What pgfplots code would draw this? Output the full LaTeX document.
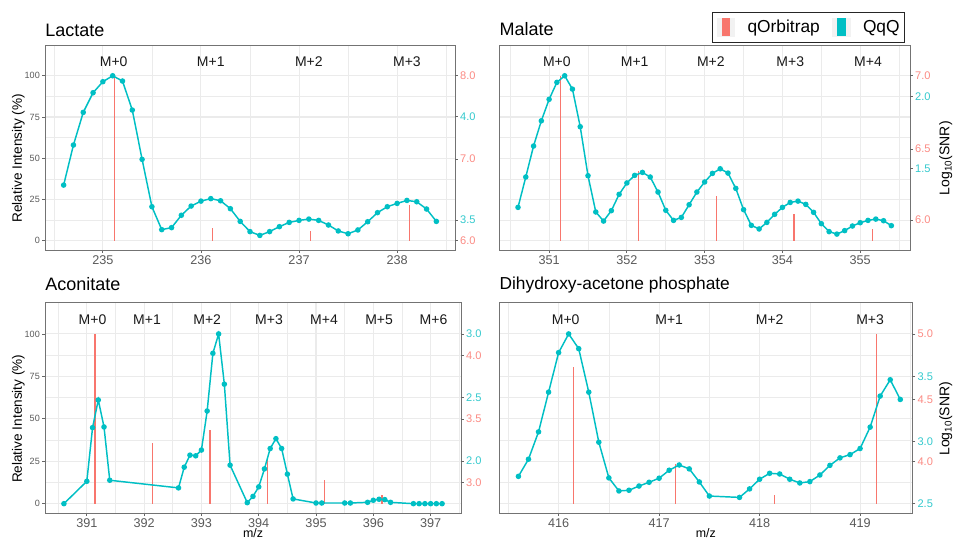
\documentclass[border=0pt]{standalone}
\usepackage{fontspec}
\setmainfont{Liberation Sans}
\usepackage{pgfplots}
\pgfplotsset{compat=1.18}

\definecolor{qqq}{HTML}{00BFC4}
\definecolor{orbi}{HTML}{F8766D}
\definecolor{qqqtxt}{HTML}{33C9CD}
\definecolor{orbitxt}{HTML}{FB8A83}
\definecolor{gridc}{HTML}{EBEBEB}
\definecolor{legbg}{HTML}{F2F2F2}

\newcommand{\pk}[1]{\textcolor{orbitxt}{#1}}
\newcommand{\cy}[1]{\textcolor{qqqtxt}{#1}}

\tikzset{mlab/.style={font=\fontsize{10.5}{11}\selectfont, text=black!90, inner sep=0pt}}

\pgfplotsset{
  panel/.style={
    scale only axis, anchor=south west,
    ymin=-5.65, ymax=118.65,
    ytick={0,25,50,75,100}, minor ytick={12.5,37.5,62.5,87.5},
    xmajorgrids, ymajorgrids, xminorgrids, yminorgrids,
    major grid style={gridc, line width=0.8pt},
    minor grid style={gridc, line width=0.45pt},
    tick align=outside, major tick length=2.2pt, minor tick length=0pt,
    xtick pos=left, ytick pos=left,
    axis line style={black!55, line width=0.7pt},
    tick style={black!60, line width=0.6pt},
    /pgf/number format/assume math mode=true,
    xticklabel style={font=\fontsize{9.5}{10}\selectfont, text=black!65, inner sep=1.5pt},
    yticklabel style={font=\fontsize{6.8}{7}\selectfont, text=black!65, inner sep=1.5pt},
    title style={at={(axis description cs:0,1)}, anchor=base west, inner sep=0pt,
      font=\fontsize{13.5}{15}\selectfont},
    ylabel style={font=\fontsize{10.2}{11}\selectfont, anchor=center},
    xlabel style={at={(axis description cs:0.5,0)}, anchor=north, yshift=-11.25pt,
      font=\fontsize{9.3}{10}\selectfont, inner sep=0pt},
  },
  noleft/.style={yticklabels={}, ytick style={draw=none}},
  snr/.style={
    scale only axis, anchor=south west,
    ymin=-5.65, ymax=118.65, xmin=0, xmax=1,
    hide x axis, axis y line*=right, axis line style={draw=none},
    tick align=outside, major tick length=2.2pt,
    tick style={black!60, line width=0.6pt},
    yticklabel style={font=\fontsize{8.3}{9}\selectfont, inner sep=1.5pt},
    ylabel style={font=\fontsize{10.5}{11}\selectfont, anchor=center},
  },
  qqqline/.style={qqq, line width=1.1pt, mark=*, mark size=1.5pt,
    mark options={fill=qqq, draw=qqq}},
  orbispike/.style={orbi, ycomb, no markers, line width=1pt},
}

\begin{document}
\begin{tikzpicture}
\path[use as bounding box] (0,0) rectangle (714.75pt,402.75pt);

% ---------------- Lactate ----------------
\begin{axis}[panel, at={(33.75pt,215.25pt)}, width=307.5pt, height=153.75pt,
  xmin=234.41, xmax=238.59, xtick={235,236,237,238},
  minor xtick={234.5,235.5,236.5,237.5,238.5},
  title={Lactate}, title style={yshift=0.75pt},
  ylabel={Relative Intensity (\%)},
  ylabel style={at={(axis description cs:-0.065,0.448)}}]
\addplot[orbispike] coordinates {(235.12,100) (236.12,7.5) (237.115,6) (238.125,21.6)};
\addplot[qqqline] table {
234.6 33.7
234.7 58.0
234.8 77.8
234.9 89.7
235.0 96.4
235.1 100.0
235.2 96.8
235.3 79.2
235.4 49.3
235.5 20.6
235.6 6.7
235.7 7.9
235.8 15.4
235.9 21.0
236.0 24.0
236.1 25.5
236.2 24.2
236.3 19.4
236.4 11.7
236.5 5.5
236.6 3.2
236.7 5.5
236.8 8.5
236.9 11.1
237.0 12.3
237.1 13.1
237.2 12.3
237.3 9.5
237.4 5.9
237.5 4.2
237.6 6.5
237.7 11.5
237.8 17.0
237.9 20.6
238.0 22.6
238.1 24.4
238.2 23.6
238.3 19.2
238.4 11.7
};
\node[mlab] at (axis cs:235.11,108.7) {M+0};
\node[mlab] at (axis cs:236.10,108.7) {M+1};
\node[mlab] at (axis cs:237.10,108.7) {M+2};
\node[mlab] at (axis cs:238.10,108.7) {M+3};
\end{axis}
\begin{axis}[snr, at={(33.75pt,215.25pt)}, width=307.5pt, height=153.75pt,
  ytick={0,12.5,49.5,75.2,100},
  yticklabels={\pk{6.0},\cy{3.5},\pk{7.0},\cy{4.0},\pk{8.0}}]
\end{axis}

% ---------------- Malate ----------------
\begin{axis}[panel, noleft, at={(374.5pt,215.25pt)}, width=308pt, height=153.75pt,
  xmin=350.36, xmax=355.64, xtick={351,352,353,354,355},
  minor xtick={350.5,351.5,352.5,353.5,354.5,355.5},
  title={Malate}, title style={yshift=1.3pt},
  legend columns=2,
  legend style={at={(axis description cs:0.988,1.162)}, anchor=north east,
    draw=black!85, line width=0.7pt, inner xsep=3.75pt, inner ysep=4pt,
    font=\fontsize{13}{14}\selectfont, nodes={inner sep=0pt},
    /tikz/every even column/.append style={column sep=9.5pt}},
  legend cell align=left]
\addplot[orbispike, legend image code/.code={
    \fill[legbg] (0pt,-6.75pt) rectangle (12.5pt,6.75pt);
    \fill[orbi] (3.6pt,-6.2pt) rectangle (8.9pt,6.2pt);
    \path (21.8pt,0pt);}]
  coordinates {(351.15,100) (352.15,42.2) (353.15,27.3) (354.15,16.4) (355.16,6.9)};
\addlegendentry{qOrbitrap}
\addplot[qqqline, legend image code/.code={
    \fill[legbg] (0pt,-6.75pt) rectangle (12.5pt,6.75pt);
    \fill[qqq] (3.6pt,-6.2pt) rectangle (8.9pt,6.2pt);
    \path (21.8pt,0pt);}] table {
350.6 20.2
350.7 38.6
350.8 57.4
350.9 72.7
351.0 85.7
351.1 96.0
351.2 100.0
351.3 91.9
351.4 69.1
351.5 39.4
351.6 17.4
351.7 11.9
351.8 18.2
351.9 28.1
352.0 35.0
352.1 39.6
352.2 41.4
352.3 38.6
352.4 29.5
352.5 18.4
352.6 12.3
352.7 14.1
352.8 21.8
352.9 29.5
353.0 35.6
353.1 40.8
353.2 43.6
353.3 41.0
353.4 31.7
353.5 18.8
353.6 9.3
353.7 7.1
353.8 11.1
353.9 16.0
354.0 20.2
354.1 23.2
354.2 24.0
354.3 22.0
354.4 17.2
354.5 10.3
354.6 5.5
354.7 4.0
354.8 6.1
354.9 8.9
355.0 10.9
355.1 12.3
355.2 13.1
355.3 12.1
355.4 9.1
};
\addlegendentry{QqQ}
\node[mlab] at (axis cs:351.10,108.3) {M+0};
\node[mlab] at (axis cs:352.10,108.3) {M+1};
\node[mlab] at (axis cs:353.08,108.3) {M+2};
\node[mlab] at (axis cs:354.10,108.3) {M+3};
\node[mlab] at (axis cs:355.10,108.3) {M+4};
\end{axis}
\begin{axis}[snr, at={(374.5pt,215.25pt)}, width=308pt, height=153.75pt,
  ytick={12.5,43.8,55.6,87.4,100},
  yticklabels={\pk{6.0},\cy{1.5},\pk{6.5},\cy{2.0},\pk{7.0}},
  ylabel={Log\textsubscript{10}(SNR)},
  ylabel style={at={(axis description cs:1.087,0.448)}}]
\end{axis}

% ---------------- Aconitate ----------------
\begin{axis}[panel, at={(33.75pt,17.8pt)}, width=312pt, height=158.25pt,
  xmin=390.27, xmax=397.53, xtick={391,392,393,394,395,396,397},
  minor xtick={390.5,391.5,392.5,393.5,394.5,395.5,396.5,397.5},
  title={Aconitate}, title style={yshift=3.2pt},
  ylabel={Relative Intensity (\%)},
  ylabel style={at={(axis description cs:-0.064,0.448)}},
  xlabel={m/z}]
\addplot[orbispike] coordinates {(391.145,100) (392.15,35.9) (393.15,43.4) (394.15,26) (395.15,13.8) (396.15,5.3)};
\addplot[qqqline] table {
390.6 0.0
391.0 13.2
391.1 44.8
391.2 61.1
391.3 45.2
391.4 13.8
392.6 9.3
392.7 21.5
392.8 28.6
392.9 28.2
393.0 31.6
393.1 54.6
393.2 88.6
393.3 100.0
393.4 70.4
393.5 22.7
393.8 0.6
393.9 4.3
394.0 9.9
394.1 20.5
394.2 32.5
394.3 38.3
394.4 32.5
394.5 17.4
394.6 2.8
395.0 0.4
395.1 0.4
395.5 0.4
395.6 0.4
395.9 0.8
396.0 2.0
396.1 2.6
396.2 2.4
396.3 0.8
396.7 0.0
396.8 0.0
396.9 0.0
397.0 0.0
397.1 0.0
397.2 0.0
};
\node[mlab] at (axis cs:391.10,108.5) {M+0};
\node[mlab] at (axis cs:392.05,108.5) {M+1};
\node[mlab] at (axis cs:393.10,108.5) {M+2};
\node[mlab] at (axis cs:394.18,108.5) {M+3};
\node[mlab] at (axis cs:395.14,108.5) {M+4};
\node[mlab] at (axis cs:396.10,108.5) {M+5};
\node[mlab] at (axis cs:397.05,108.5) {M+6};
\end{axis}
\begin{axis}[snr, at={(33.75pt,17.8pt)}, width=312pt, height=158.25pt,
  ytick={12.6,25.2,49.9,62.7,87.4,100},
  yticklabels={\pk{3.0},\cy{2.0},\pk{3.5},\cy{2.5},\pk{4.0},\cy{3.0}}]
\end{axis}

% ---------------- Dihydroxy-acetone phosphate ----------------
\begin{axis}[panel, noleft, at={(374.5pt,17.8pt)}, width=309.75pt, height=158.25pt,
  xmin=415.41, xmax=419.52, xtick={416,417,418,419},
  minor xtick={415.5,416.5,417.5,418.5,419.5},
  title={Dihydroxy-acetone phosphate}, title style={yshift=3.75pt, font=\fontsize{13}{15}\selectfont},
  xlabel={m/z}]
\addplot[orbispike] coordinates {(416.15,80.3) (417.16,23.2) (418.15,4.9) (419.16,100)};
\addplot[qqqline] table {
415.6 16.1
415.7 26.2
415.8 42.3
415.9 65.7
416.0 89.0
416.1 100.0
416.2 91.3
416.3 65.7
416.4 36.2
416.5 15.2
416.6 7.5
416.7 7.9
416.8 10.4
416.9 12.6
417.0 15.0
417.1 19.7
417.2 22.8
417.3 20.5
417.4 12.8
417.5 4.5
417.8 3.7
417.9 8.7
418.0 14.4
418.1 17.9
418.2 17.5
418.3 14.4
418.4 12.2
418.5 13.0
418.6 16.9
418.7 22.6
418.8 27.0
418.9 28.9
419.0 32.5
419.1 45.1
419.2 63.4
419.3 73.0
419.4 61.4
};
\node[mlab] at (axis cs:416.07,108.2) {M+0};
\node[mlab] at (axis cs:417.10,108.2) {M+1};
\node[mlab] at (axis cs:418.10,108.2) {M+2};
\node[mlab] at (axis cs:419.10,108.2) {M+3};
\end{axis}
\begin{axis}[snr, at={(374.5pt,17.8pt)}, width=309.75pt, height=158.25pt,
  ytick={0,24.7,36.7,61.4,74.8,100},
  yticklabels={\cy{2.5},\pk{4.0},\cy{3.0},\pk{4.5},\cy{3.5},\pk{5.0}},
  ylabel={Log\textsubscript{10}(SNR)},
  ylabel style={at={(axis description cs:1.081,0.448)}}]
\end{axis}
\end{tikzpicture}
\end{document}
